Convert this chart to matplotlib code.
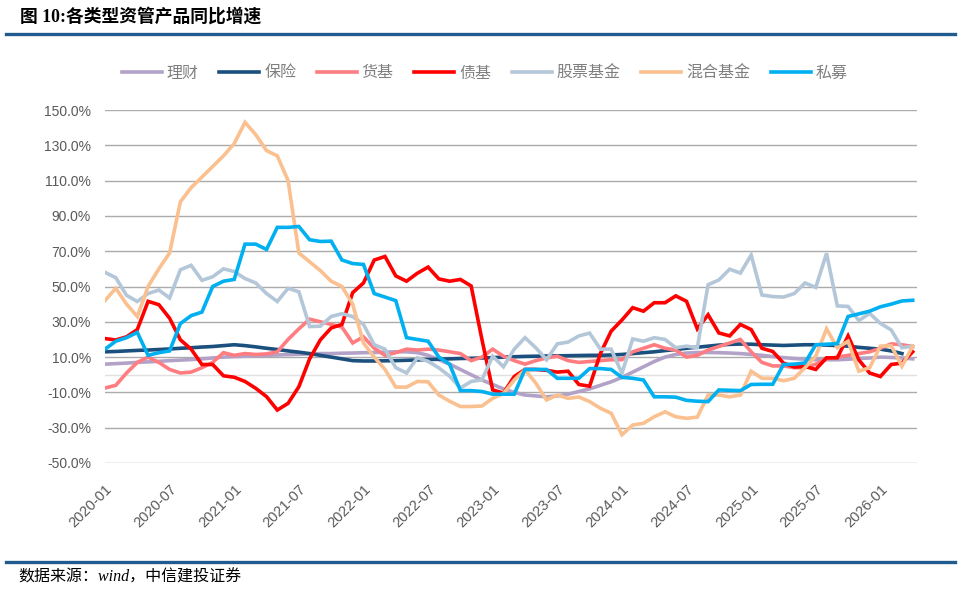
import numpy as np
import matplotlib
matplotlib.use("Agg")
import matplotlib.pyplot as plt

plt.rcParams['font.family'] = ['Liberation Sans', 'Noto Sans CJK SC', 'DejaVu Sans']
plt.rcParams['axes.unicode_minus'] = False

# monthly series, 2020-01 .. 2026-04 (76 months), yoy growth in %
licai = [6, 6.3, 6.6, 7, 7.3, 7.6, 8, 8.3, 8.6, 9, 9.5, 10, 10.3, 10.5, 10.7, 11, 11.2, 11.4, 11.6, 11.8,
         12, 12, 12.2, 12.3, 12.5, 12.6, 12.8, 13, 13, 12.5, 11, 8.5, 6, 3, 0, -3, -5.5, -8, -10, -11.5,
         -12, -12.5, -12, -11, -9.5, -8, -6, -4, -1.5, 1.5, 4.5, 7.5, 10, 11.5, 12.3, 12.6, 12.6, 12.5, 12.3, 12,
         11.5, 11, 10.3, 9.7, 9.2, 8.8, 8.5, 8.5, 8.5, 8.8, 9.2, 9.5, 10, 9.8, 9.5, 9]
baoxian = [13, 13.2, 13.5, 13.8, 14, 14.3, 14.6, 15, 15.3, 15.7, 16, 16.5, 17, 16.5, 15.8, 15, 14.3, 13.5, 12.8, 12,
           11, 10, 9, 8, 7.8, 7.8, 7.9, 8, 8.2, 8.4, 8.6, 8.8, 9, 9.2, 9.3, 9.5, 9.7, 10, 10.2, 10.4,
           10.5, 10.6, 10.7, 10.8, 10.9, 11, 11, 11.2, 11.5, 12, 12.5, 13, 13.7, 14.3, 15, 15.6, 16.2, 16.8, 17.2, 17.4,
           17.3, 17, 16.8, 16.6, 16.8, 17, 17, 16.8, 16.5, 16.2, 15.5, 15, 14.5, 13.5, 12, np.nan]
huoji = [-7.5, -6, 1, 7, 10, 7, 3, 1, 1.5, 4, 7, 12.5, 11, 12, 11.5, 11.8, 13, 20, 26, 31.5,
         30, 28.5, 27, 18, 21.5, 15, 11, 12.5, 14.5, 14, 14.5, 14, 13, 12, 8, 10, 14.5, 10.5, 8, 6,
         8, 9.5, 10.5, 8, 7, 7.5, 8, 8.5, 8.5, 13, 15, 17, 15, 14, 10, 11, 14, 16, 18, 20,
         13, 7, 5, 5, 4, 4, 6, 9, 10, 11, 12, 13, 15, 17.5, 17, 16]
zhaiji = [20.5, 19.7, 21.5, 25.6, 41.6, 39.7, 32, 19.8, 14.5, 5.8, 5.8, -0.6, -1.4, -3.8, -7.7, -12.4, -20, -16.2, -6.8, 9,
          19.8, 26.5, 28.5, 46.5, 52, 65, 67, 56, 53, 57.5, 61, 54.3, 53, 54, 50.3, 20, -8.6, -10.4, -1, 3,
          3, 2.5, 1.5, 2, -5.5, -6.5, 12, 24.7, 31, 38, 36, 40.8, 40.8, 44.7, 41.6, 26, 34, 23.7, 22, 28.5,
          25.6, 15, 13.2, 6.6, 4.4, 4.7, 3, 9.6, 9.6, 22, 8.4, 1, -1, 5.8, 6.6, 13]
gupiao = [58, 55, 45, 41.5, 46, 48, 43.5, 59.5, 62, 53.5, 55.5, 60, 58.5, 54.5, 52, 46, 41.5, 49, 47, 27.3,
          27.5, 33, 34.6, 33, 28.5, 17, 14.5, 4, 1, 9.6, 7.6, 3.9, -0.8, -7.5, -3.8, -2.9, 10.5, 4.5, 14.5, 21,
          15.3, 8.5, 17.5, 18.5, 22, 23.6, 14.5, 14.5, 0.8, 20.3, 19, 21, 20, 15.3, 16.2, 15.3, 51, 53.7, 59.8, 57.6,
          67.8, 45.2, 44.3, 44, 46, 52, 49.5, 68.8, 39, 38.7, 30.7, 34.8, 29.1, 25.4, 15.3, 16.2]
hunhe = [42, 49, 40, 33, 50, 60, 69, 98, 106, 112, 118, 124, 131, 143, 136, 127, 124, 110, 69, 64,
         59, 53, 50, 40, 18, 10, 3, -7, -7, -3.8, -4, -11.5, -15, -18, -18, -17.7, -13.4, -10.6, -3, 2.8,
         -4.7, -14.3, -11.5, -13.4, -12.6, -15.2, -19, -21.8, -34, -28.5, -27.5, -23.8, -21, -23.8, -24.7, -24, -11.5, -11.5, -12.5, -11.5,
         2, -2, -2, -3.4, -2, 4, 10.5, 26, 15.3, 19, 2, 4, 16.2, 16.5, 4.8, 16.2]
simu = [14.5, 19, 21, 24, 11, 12.5, 13.5, 29, 33.5, 35.5, 50, 53, 54, 74, 74, 71, 83.5, 83.5, 84, 76.5,
        75.5, 75.7, 65, 63, 62.5, 46, 44, 42, 21, 20, 19, 10, 6, -9, -9, -9.5, -11, -11, -11, 3,
        3, 3, -2, -2, -2, 3.5, 3.5, 3, -1.5, -2, -3, -12.5, -12.5, -12.7, -14.5, -15, -15.2, -8.6, -8.8, -9,
        -5.5, -5.4, -5.4, 5.8, 6, 6.7, 17, 17.3, 17.6, 33, 34.5, 36, 38.5, 40, 41.8, 42.2]

series_names = ['理财', '保险', '货基', '债基', '股票基金', '混合基金', '私募']
series_values = [licai, baoxian, huoji, zhaiji, gupiao, hunhe, simu]
colors = ['#B3A2C7', '#1B4F7E', '#FF7C80', '#FF0000', '#B4C7D9', '#FAC090', '#00B0F0']

tick_pos = [0, 6, 12, 18, 24, 30, 36, 42, 48, 54, 60, 66, 72]
tick_labels = ['2020-01', '2020-07', '2021-01', '2021-07', '2022-01', '2022-07', '2023-01',
               '2023-07', '2024-01', '2024-07', '2025-01', '2025-07', '2026-01']
y_ticks = [-50, -30, -10, 10, 30, 50, 70, 90, 110, 130, 150]

fig = plt.figure(figsize=(9.6, 5.93), dpi=100)
ax = fig.add_axes([105 / 960, 1 - 463 / 593, 812 / 960, 353 / 593])

x = np.arange(len(licai))
for name, vals, c in zip(series_names, series_values, colors):
    ax.plot(x, vals, color=c, lw=2.6, label=name, solid_joinstyle='miter')

ax.set_ylim(-50, 150)
ax.set_xlim(0, 75.4)
ax.set_yticks(y_ticks)
ax.set_yticklabels(['%.1f%%' % v for v in y_ticks])
ax.set_xticks(tick_pos)
ax.set_xticklabels(tick_labels, rotation=45, ha='right', va='top', rotation_mode='anchor')
ax.tick_params(axis='y', length=0, pad=10, labelsize=10, labelcolor='#595959')
ax.tick_params(axis='x', length=0, pad=14, labelsize=10.5, labelcolor='#595959')
for s in ax.spines.values():
    s.set_visible(False)
ax.grid(axis='y', color='#ABABAB', lw=1)
ax.set_axisbelow(True)
ax.axhline(0, color='#E0E0E0', lw=1, zorder=0.5)

leg = fig.legend(loc='center', bbox_to_anchor=(0.505, 1 - 73 / 593), ncol=7, frameon=False,
                 handlelength=2.5, handletextpad=0.3, columnspacing=1.3,
                 prop={'family': ['Noto Sans CJK SC'], 'size': 11.5})
for t in leg.get_texts():
    t.set_color('#7F7F7F')

# header and footer
fig.text(20 / 960, 1 - 17 / 593, '图 10:各类型资管产品同比增速', fontsize=12.8, fontweight='bold',
         family=['Liberation Serif', 'Noto Sans CJK SC'], va='center', ha='left')
fig.add_artist(plt.Line2D([6 / 960, 955 / 960], [1 - 34 / 593] * 2, color='#1F5C8D', lw=2.4))
fig.add_artist(plt.Line2D([6 / 960, 955 / 960], [1 - 562 / 593] * 2, color='#1F5C8D', lw=2.4))
fig.text(18 / 960, 1 - 578 / 593, '数据来源：wind，中信建投证券', fontsize=11.5, style='italic',
         family=['Liberation Serif', 'Noto Sans CJK SC'], va='center', ha='left')

fig.savefig('out.png', dpi=100)
